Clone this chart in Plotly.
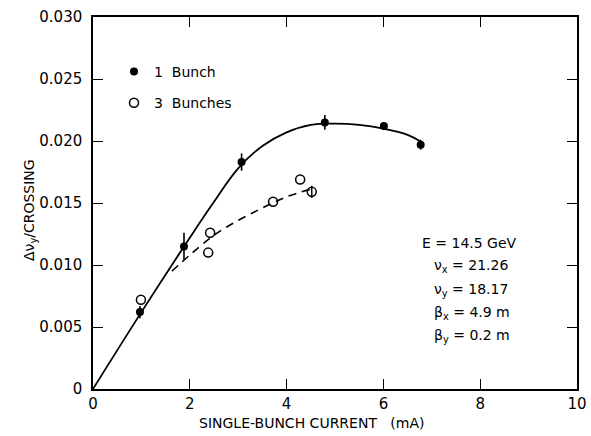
import plotly.graph_objects as go

# 1 bunch (filled) measurements
one_x = [0.97, 1.88, 3.07, 4.79, 6.01, 6.77]
one_y = [0.0062, 0.0115, 0.0183, 0.0215, 0.0212, 0.0197]
one_err = [0.0005, 0.0011, 0.0007, 0.0006, 0.0003, 0.0004]

# 3 bunches (open) measurements
three_x = [0.99, 2.38, 2.42, 3.72, 4.28, 4.52]
three_y = [0.0072, 0.0110, 0.0126, 0.0151, 0.0169, 0.0159]
three_err = [0, 0, 0, 0, 0, 0.0005]

# hand-drawn curves
solid_x = [0, 1.0, 2.0, 2.5, 3.0, 3.5, 4.0, 4.5, 5.0, 5.5, 6.0, 6.5, 6.75]
solid_y = [0, 0.0062, 0.0122, 0.0151, 0.0178, 0.0196, 0.0207, 0.0213, 0.0214, 0.0213, 0.0210, 0.0205, 0.0200]
dash_x = [1.63, 2.0, 2.5, 3.0, 3.5, 4.0, 4.48]
dash_y = [0.0095, 0.0108, 0.0124, 0.0136, 0.0146, 0.0155, 0.0161]

y_ticks = [0, 0.005, 0.010, 0.015, 0.020, 0.025, 0.030]
y_labels = ["0", "0.005", "0.010", "0.015", "0.020", "0.025", "0.030"]
x_ticks = [0, 2, 4, 6, 8, 10]
x_labels = ["0", "2", "4", "6", "8", "10"]

params = ["E = 14.5 GeV", "ν<sub>x</sub> = 21.26", "ν<sub>y</sub> = 18.17",
          "β<sub>x</sub> = 4.9 m", "β<sub>y</sub> = 0.2 m"]

FONT = "DejaVu Sans"

L, R, T, B = 93, 14, 17, 47
W, H = 591, 436
pw, ph = W - L - R, H - T - B


def px(xp):
    return (xp - L) / pw


def py(yp):
    return 1 - (yp - T) / ph


fig = go.Figure()
fig.add_trace(go.Scatter(x=solid_x, y=solid_y, mode="lines",
                         line=dict(color="black", width=1.8, shape="spline", smoothing=1.1),
                         showlegend=False, hoverinfo="skip"))
fig.add_trace(go.Scatter(x=dash_x, y=dash_y, mode="lines",
                         line=dict(color="black", width=1.6, dash="8px,6px", shape="spline"),
                         showlegend=False, hoverinfo="skip"))
fig.add_trace(go.Scatter(x=one_x, y=one_y, mode="markers", name="1  Bunch", legendgroup="a",
                         marker=dict(symbol="circle", size=8, color="black"),
                         error_y=dict(type="data", array=one_err, width=0, thickness=1.6, color="black")))
fig.add_trace(go.Scatter(x=three_x, y=three_y, mode="markers", name="3  Bunches", legendgroup="b",
                         marker=dict(symbol="circle-open", size=9, color="black", line=dict(width=1.5)),
                         error_y=dict(type="data", array=three_err, width=0, thickness=1.4, color="black")))

for i, t in enumerate(params):
    fig.add_annotation(x=px(432 if i > 0 else 420), y=py(243 + i * 23.3), xref="paper", yref="paper", text=t,
                       showarrow=False, xanchor="left", yanchor="middle",
                       font=dict(family=FONT, size=14, color="black"))

fig.add_annotation(x=px(311), y=py(423), xref="paper", yref="paper",
                   text="SINGLE-BUNCH CURRENT   (mA)", showarrow=False, xanchor="center", yanchor="middle",
                   font=dict(family=FONT, size=14, color="black"))
fig.add_annotation(x=px(30), y=py(210), xref="paper", yref="paper",
                   text="Δν<sub>y</sub>/CROSSING", textangle=-90, showarrow=False,
                   xanchor="center", yanchor="middle", font=dict(family=FONT, size=14, color="black"))

axis_common = dict(showline=True, linecolor="black", linewidth=1.5, mirror="ticks", ticks="inside",
                   ticklen=10, tickwidth=1.3, tickcolor="black", showgrid=False, zeroline=False,
                   tickfont=dict(family=FONT, size=15, color="black"))
fig.update_xaxes(range=[0, 10], tickvals=x_ticks, ticktext=x_labels, **axis_common)
fig.update_yaxes(range=[0, 0.030], tickvals=y_ticks, ticktext=y_labels, ticklabelstandoff=6, **axis_common)

fig.update_layout(
    width=W, height=H, margin=dict(l=L, r=R, t=T, b=B, autoexpand=False),
    paper_bgcolor="white", plot_bgcolor="white",
    font=dict(family=FONT, color="black"),
    legend=dict(x=px(114), y=py(56), xanchor="left", yanchor="top",
                bgcolor="rgba(0,0,0,0)", font=dict(family=FONT, size=14, color="black"),
                tracegroupgap=10),
)

fig.write_html("out.html", config={"displayModeBar": False},
               post_script="document.body.style.margin='0';document.body.style.overflow='hidden';")
